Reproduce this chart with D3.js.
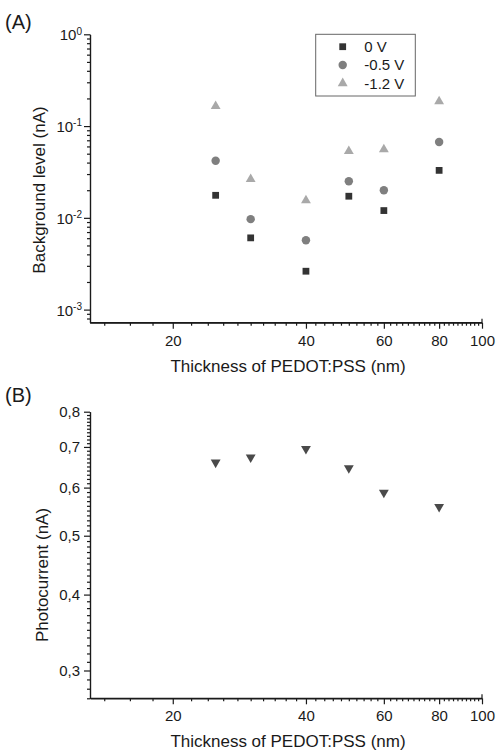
<!DOCTYPE html>
<html>
<head>
<meta charset="utf-8">
<script src="https://cdnjs.cloudflare.com/ajax/libs/d3/7.8.5/d3.min.js"></script>
<style>
    body { margin: 0; background: #fff; }
    svg text { font-family: "Liberation Sans", Arial, sans-serif; fill: #1a1a1a; }
    .axis path, .axis line { stroke: #1a1a1a; stroke-width: 1.2; }
</style>
</head>
<body>
<svg width="498" height="752"></svg>
<script>
// thickness of PEDOT:PSS (nm)
var thickness = [25, 30, 40, 50, 60, 80];

// panel A, background level (nA)
var bg0V  = [0.0176, 0.00605, 0.00262, 0.0172, 0.0120, 0.0329];
var bg05V = [0.0418, 0.00968, 0.00571, 0.0251, 0.0200, 0.0669];
var bg12V = [0.165, 0.0264, 0.0155, 0.0534, 0.0557, 0.186];
var legendLabels = ["0 V", "-0.5 V", "-1.2 V"];

// panel B, photocurrent (nA)
var photocurrent = [0.660, 0.673, 0.695, 0.646, 0.589, 0.558];

var xTicks = [20, 40, 60, 80, 100];
var yTicksA = [0.001, 0.01, 0.1, 1];
var yTicksB = [0.3, 0.4, 0.5, 0.6, 0.7, 0.8];

var svg = d3.select("svg");

var x = d3.scaleLog().domain([13, 100]).range([90, 482]);

// minor ticks every 2 nm
var xMinor = d3.range(14, 100, 2).filter(function(v) { return xTicks.indexOf(v) < 0; });

function drawXAxis(y0, labelY, titleY) {
    svg.append("g")
        .attr("class", "axis")
        .attr("transform", "translate(0," + y0 + ")")
        .call(d3.axisBottom(x).tickValues(xMinor).tickSize(3).tickSizeOuter(0).tickFormat(""));
    var g = svg.append("g")
        .attr("class", "axis")
        .attr("transform", "translate(0," + y0 + ")")
        .call(d3.axisBottom(x).tickValues(xTicks).tickSize(6).tickSizeOuter(0).tickFormat(d3.format("d")));
    g.selectAll("text").attr("y", labelY).attr("dy", 0).style("font-size", "15px").attr("fill", "#1a1a1a");
    g.select(".domain").remove();
    // end tick at 100 pointing up
    svg.append("line")
        .attr("x1", x(100)).attr("x2", x(100))
        .attr("y1", y0).attr("y2", y0 - 4)
        .attr("stroke", "#1a1a1a").attr("stroke-width", 1.2);
    svg.append("line")
        .attr("x1", x.range()[0]).attr("x2", x.range()[1])
        .attr("y1", y0).attr("y2", y0)
        .attr("stroke", "#1a1a1a").attr("stroke-width", 1.2);
    svg.append("text")
        .attr("x", 288).attr("y", titleY)
        .attr("text-anchor", "middle")
        .style("font-size", "17px")
        .text("Thickness of PEDOT:PSS (nm)");
}

// ---------- panel A ----------
var yA = d3.scaleLog().domain([7.2e-4, 1]).range([322.7, 34.3]);

var yMinorA = [];
for (var k = -4; k < 0; k++) {
    for (var m = 2; m < 10; m++) {
        var v = m * Math.pow(10, k);
        if (v >= yA.domain()[0] && v <= 1) yMinorA.push(v);
    }
}

svg.append("g")
    .attr("class", "axis")
    .attr("transform", "translate(90,0)")
    .call(d3.axisLeft(yA).tickValues(yMinorA).tickSize(3).tickSizeOuter(0).tickFormat(""));
var gyA = svg.append("g")
    .attr("class", "axis")
    .attr("transform", "translate(90,0)")
    .call(d3.axisLeft(yA).tickValues(yTicksA).tickSize(6).tickSizeOuter(0).tickFormat(""));

gyA.selectAll(".tick").each(function(d) {
    var t = d3.select(this).append("text")
        .attr("x", -8).attr("dy", "0.36em")
        .attr("text-anchor", "end")
        .style("font-size", "15px")
        .attr("fill", "#1a1a1a");
    t.append("tspan").text("10");
    t.append("tspan").attr("dy", "-0.55em").style("font-size", "10px")
        .text(Math.round(Math.log10(d)) === 0 ? "0" : "-" + Math.abs(Math.round(Math.log10(d))));
});

drawXAxis(322.7, 23, 372);

svg.append("text")
    .attr("transform", "translate(45,190) rotate(-90)")
    .attr("text-anchor", "middle")
    .style("font-size", "17px")
    .text("Background level (nA)");

svg.append("text").attr("x", 5).attr("y", 29).style("font-size", "20px").text("(A)");

var seriesA = [
    {values: bg0V,  symbol: d3.symbolSquare,   size: 46, color: "#333333"},
    {values: bg05V, symbol: d3.symbolCircle,   size: 56, color: "#7f7f7f"},
    {values: bg12V, symbol: d3.symbolTriangle, size: 42, color: "#a9a9a9"}
];

seriesA.forEach(function(s) {
    svg.append("g").selectAll("path")
        .data(thickness)
      .enter().append("path")
        .attr("d", d3.symbol().type(s.symbol).size(s.size))
        .attr("transform", function(d, i) { return "translate(" + x(d) + "," + yA(s.values[i]) + ")"; })
        .attr("fill", s.color);
});

// legend
var legend = svg.append("g").attr("transform", "translate(315.7,34.3)");
legend.append("rect")
    .attr("width", 99.6).attr("height", 61.7)
    .attr("fill", "#fff").attr("stroke", "#666").attr("stroke-width", 1);
var item = legend.selectAll(".item")
    .data(seriesA)
  .enter().append("g")
    .attr("transform", function(d, i) { return "translate(27," + (12.4 + i * 18.3) + ")"; });
item.append("path")
    .attr("d", function(d) { return d3.symbol().type(d.symbol).size(d.size)(); })
    .attr("fill", function(d) { return d.color; });
item.append("text")
    .attr("x", 21.6).attr("dy", "0.36em")
    .style("font-size", "15px")
    .text(function(d, i) { return legendLabels[i]; });

// ---------- panel B ----------
var yB = d3.scaleLog().domain([0.27, 0.8]).range([698.3, 411.7]);
var yMinorB = d3.range(27, 81).map(function(v) { return v / 100; })
    .filter(function(v) { return Math.round(v * 100) % 10 !== 0; });

svg.append("g")
    .attr("class", "axis")
    .attr("transform", "translate(90,0)")
    .call(d3.axisLeft(yB).tickValues(yMinorB).tickSize(3).tickSizeOuter(0).tickFormat(""));
var gyB = svg.append("g")
    .attr("class", "axis")
    .attr("transform", "translate(90,0)")
    .call(d3.axisLeft(yB).tickValues(yTicksB).tickSize(6).tickSizeOuter(0)
        .tickFormat(function(d) { return d3.format(".1f")(d).replace(".", ","); }));
gyB.selectAll("text").attr("x", -10).style("font-size", "15px").attr("fill", "#1a1a1a");

drawXAxis(698.3, 23, 747);

svg.append("text")
    .attr("transform", "translate(48,575) rotate(-90)")
    .attr("text-anchor", "middle")
    .style("font-size", "17px")
    .text("Photocurrent (nA)");

svg.append("text").attr("x", 5).attr("y", 402).style("font-size", "20px").text("(B)");

svg.append("g").selectAll("path")
    .data(thickness)
  .enter().append("path")
    .attr("d", d3.symbol().type(d3.symbolTriangle).size(42))
    .attr("transform", function(d, i) { return "translate(" + x(d) + "," + yB(photocurrent[i]) + ") rotate(180)"; })
    .attr("fill", "#4a4a4a");
</script>
</body>
</html>
